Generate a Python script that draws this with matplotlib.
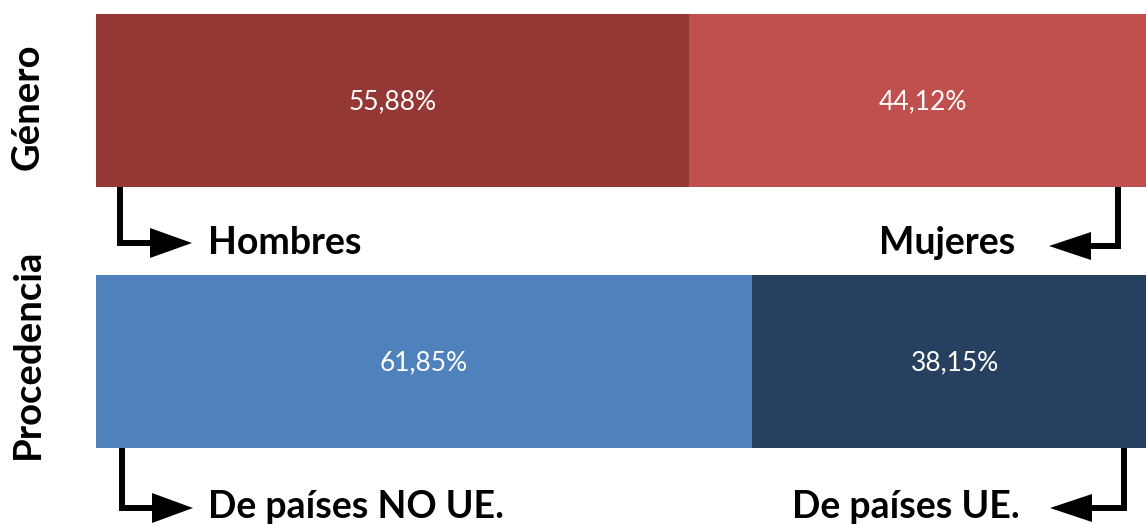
import matplotlib
matplotlib.use("Agg")
import matplotlib.pyplot as plt
from matplotlib.patches import Polygon

# Data
rows = ["Género", "Procedencia"]
row_values = [[55.88, 44.12], [61.85, 38.15]]
row_labels = [["Hombres", "Mujeres"], ["De países NO UE.", "De países UE."]]
row_colors = [["#953735", "#C0504D"], ["#4F81BD", "#27405F"]]

W, H = 1146, 526
fig = plt.figure(figsize=(W / 100, H / 100), dpi=100)
plt.rcParams['font.family'] = ['Lato', 'DejaVu Sans']

# bar axes: percent coordinates; 0% at px 96, 100% at px 1157
px0, px100 = 96.0, 1157.0
scale = (px100 - px0) / 100.0
ax = fig.add_axes([0, 0, 1, 1])
ax.set_xlim(-px0 / scale, (W - px0) / scale)
ax.set_ylim(H, 0)
ax.axis("off")

# overlay in pixel coords for annotations
ov = fig.add_axes([0, 0, 1, 1], facecolor="none")
ov.set_xlim(0, W)
ov.set_ylim(H, 0)
ov.axis("off")

bar_centers = [100.5, 361.5]
bar_h = 173
for i, vals in enumerate(row_values):
    left = 0.0
    for j, v in enumerate(vals):
        ax.barh(bar_centers[i], v, left=left, height=bar_h, color=row_colors[i][j], linewidth=0)
        ax.text(left + v / 2, bar_centers[i] + 1, f"{v:.2f}".replace(".", ",") + "%",
                ha="center", va="center", color="white", fontsize=19)
        left += v

# side labels
ov.text(28, 107, rows[0], rotation=90, ha="center", va="center", fontsize=27.5, fontweight="bold")
ov.text(28, 354, rows[1], rotation=90, ha="center", va="center", fontsize=27.5, fontweight="bold")

# elbow arrows
def elbow(x, y0, y1, x_end, tip, base, half):
    ov.plot([x, x, x_end], [y0, y1, y1], color="black", lw=4.3, solid_joinstyle="miter",
            solid_capstyle="butt")
    ov.add_patch(Polygon([(base, y1 - half), (base, y1 + half), (tip, y1)], closed=True,
                         color="black", lw=0))

bar_bottoms = [c + bar_h / 2 for c in bar_centers]
elbow(120, bar_bottoms[0], 243, 153, 192, 150, 15)
elbow(1118, bar_bottoms[0], 246, 1089, 1049, 1091, 14)
elbow(122, bar_bottoms[1], 508, 154, 193, 152, 15)
elbow(1124, bar_bottoms[1], 508, 1091, 1050, 1092, 14)

# category labels
fs = 27
ov.text(208, 254, row_labels[0][0], ha="left", va="baseline", fontsize=fs, fontweight="bold")
ov.text(1015, 254, row_labels[0][1], ha="right", va="baseline", fontsize=fs, fontweight="bold")
ov.text(208, 518, row_labels[1][0], ha="left", va="baseline", fontsize=fs, fontweight="bold")
ov.text(1020, 518, row_labels[1][1], ha="right", va="baseline", fontsize=fs, fontweight="bold")

fig.savefig("out.png", dpi=100)
